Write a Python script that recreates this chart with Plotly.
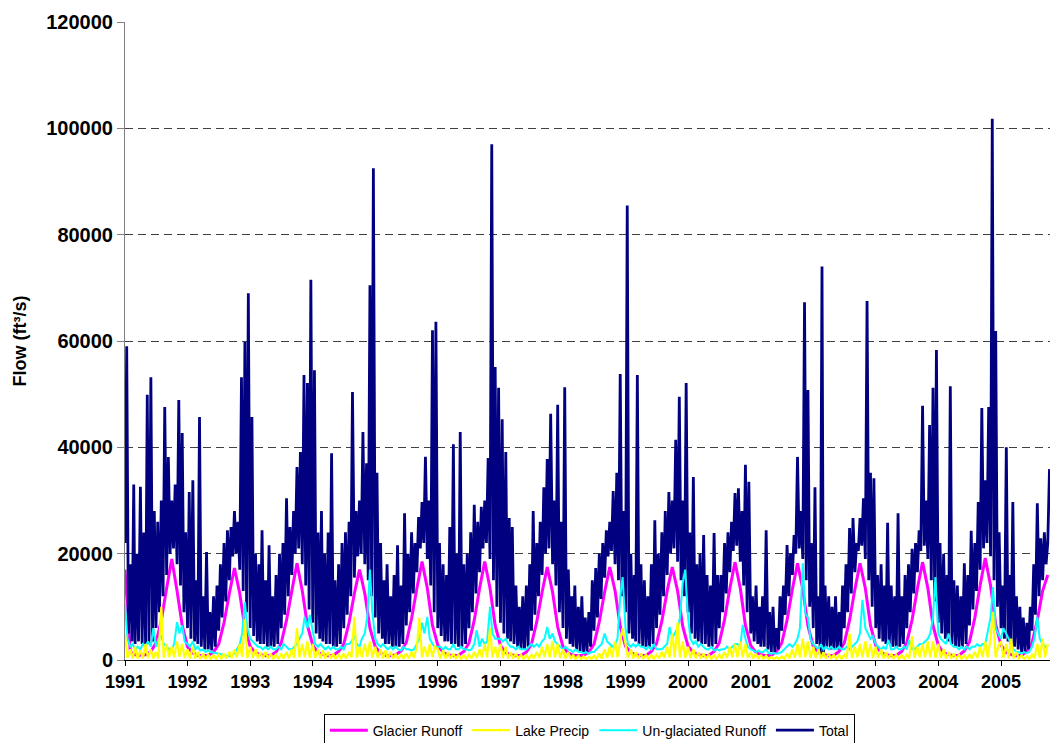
import pandas as pd
import plotly.graph_objects as go

# Total flow, three samples a month (1st / 11th / 21st), Jan 1991 .. Oct 2005
total_flow = [
    # 1991
    22000, 59000, 5000, 18000, 3500, 33000, 3000, 20000, 3500, 32600, 3000, 24000,
    3000, 49900, 3000, 53200, 3500, 28000, 6000, 26000, 9000, 30000, 12000, 47600,
    16000, 38200, 20000, 30000, 21000, 33000, 18000, 48900, 14000, 42700, 9000, 24000,
    # 1992
    6000, 31600, 4000, 33800, 3500, 15000, 3000, 45700, 2500, 12000, 2000, 20300,
    2000, 9000, 1800, 12000, 2500, 14000, 5500, 18000, 8000, 22000, 11000, 24400,
    15000, 25000, 19500, 28000, 20000, 26000, 17000, 53200, 13000, 59800, 9000, 69000,
    # 1993
    6000, 45700, 4500, 20000, 3500, 18000, 3000, 24400, 3000, 15000, 2500, 21600,
    2500, 12000, 2500, 16000, 3000, 20000, 6000, 22000, 8500, 30400, 12000, 25000,
    16000, 28000, 20000, 36300, 21000, 39100, 18000, 53600, 14000, 52100, 9500, 71500,
    # 1994
    7000, 54500, 5000, 24000, 4000, 28000, 3500, 20000, 3000, 24000, 3000, 38900,
    2500, 15000, 2500, 18000, 3000, 22000, 6000, 24000, 8500, 26000, 12000, 50400,
    15500, 28000, 19500, 30000, 20000, 42900, 18000, 37000, 15000, 70500, 12000, 92500,
    # 1995
    8000, 35200, 5000, 22000, 4000, 15000, 3000, 18000, 3000, 12000, 2500, 16000,
    2500, 21600, 2500, 14000, 3000, 27600, 6500, 20000, 9000, 24000, 12500, 22000,
    16500, 26900, 21000, 29700, 22000, 38200, 19000, 30000, 14000, 62000, 9000, 63600,
    # 1996
    6000, 22000, 4500, 18000, 3500, 16000, 3500, 25000, 3000, 40600, 3000, 20000,
    2500, 42900, 2500, 18000, 3000, 20000, 6000, 24000, 9000, 29200, 12500, 26000,
    16500, 28800, 21000, 30000, 22000, 38000, 19000, 97000, 15000, 55100, 10000, 51200,
    # 1997
    7000, 45300, 5000, 39100, 4000, 26700, 3500, 25000, 3000, 14000, 2500, 10000,
    2000, 12000, 2000, 14000, 2500, 18000, 5500, 28000, 8500, 22000, 12000, 26000,
    16000, 32500, 20000, 37800, 21000, 46300, 18000, 30000, 14000, 48000, 9000, 26000,
    # 1998
    6000, 51300, 4000, 17000, 3000, 12000, 2500, 14000, 2000, 10000, 1500, 12000,
    1500, 8000, 1500, 9000, 2500, 15000, 5500, 17300, 8000, 20000, 11500, 22000,
    15500, 24400, 19500, 26000, 20500, 31800, 18000, 35200, 15000, 53800, 12000, 28000,
    # 1999
    9000, 85500, 5000, 20000, 4000, 16000, 3500, 53600, 3000, 18000, 2500, 15000,
    2500, 12000, 2500, 18000, 3000, 26300, 6000, 20000, 8500, 24000, 12000, 28000,
    16000, 31600, 20000, 30000, 21000, 41400, 18500, 49500, 15000, 30000, 12000, 52100,
    # 2000
    9000, 24000, 5000, 34400, 4000, 18000, 3500, 20000, 3000, 23500, 3000, 16000,
    2500, 14000, 2500, 23900, 3000, 16000, 6000, 16000, 9000, 22000, 12500, 24000,
    16500, 26000, 20500, 31400, 21500, 32300, 18500, 28000, 14000, 36700, 9000, 33500,
    # 2001
    5000, 12000, 3500, 14000, 3000, 10000, 2500, 12000, 2500, 24400, 2000, 9000,
    1500, 10000, 1500, 6000, 2000, 12000, 5500, 14000, 8500, 21600, 12000, 20000,
    16000, 23500, 20000, 38200, 21000, 28000, 19000, 67300, 15000, 50800, 10000, 22000,
    # 2002
    6000, 32500, 3000, 12000, 1000, 74000, 1000, 14000, 2500, 12000, 2000, 10000,
    2000, 12000, 2000, 9000, 2500, 14000, 6000, 18000, 9000, 24800, 12500, 26700,
    16500, 22000, 20500, 26700, 21500, 30400, 19000, 67500, 15000, 35200, 10000, 34200,
    # 2003
    6000, 16000, 4000, 18000, 3500, 14000, 3000, 25800, 3000, 14000, 2500, 12000,
    2500, 27600, 2500, 12000, 3000, 16000, 6000, 18000, 9000, 20900, 12500, 22000,
    16500, 24400, 20500, 47800, 21500, 30000, 19000, 44200, 15000, 51200, 11000, 58300,
    # 2004
    7000, 22000, 5000, 20000, 4000, 16000, 3500, 51500, 3000, 15000, 2500, 14000,
    2500, 12000, 2500, 18200, 3000, 16000, 6500, 24300, 9500, 22000, 13000, 29700,
    17000, 47400, 21000, 33800, 22000, 47600, 19500, 101800, 15000, 61900, 10000, 24000,
    # 2005
    6000, 14000, 4000, 40000, 3500, 16000, 3000, 29700, 2500, 12000, 2000, 10000,
    1500, 8000, 1500, 7000, 2000, 10000, 5500, 18000, 8500, 29500, 12000, 22900,
    15000, 24000, 18000, 22000, 35900,
]

# semi-monthly (1st / 15th)
unglaciated = [
    10700, 4000, 2500, 3000, 2000, 2500, 2000, 3000, 2500, 3500, 2500, 6000,
    2500, 4000, 4500, 3000, 2500, 2000, 2000, 3000, 7100, 5000, 6500, 3500,
    3000, 2500, 3500, 2000, 2500, 1800, 2000, 1500, 1800, 1500, 1400, 1300,
    1200, 1100, 1000, 800, 700, 900, 1200, 2000, 3000, 5000, 10900, 6000,
    4000, 3500, 3000, 2500, 2500, 2000, 2500, 2000, 2500, 2000, 2000, 2500,
    2000, 3000, 2500, 2000, 2000, 2500, 3000, 4000, 5000, 8100, 6000, 8500,
    5000, 3000, 2500, 3000, 2500, 2000, 2500, 2000, 2500, 2000, 2000, 2500,
    2000, 3000, 3000, 3500, 4500, 3000, 2500, 4000, 5000, 8000, 17000, 9000,
    4000, 3000, 2500, 3000, 2500, 2000, 2500, 2000, 2500, 2000, 1800, 2500,
    2000, 2000, 1800, 2000, 3000, 4000, 7000, 5000, 8100, 4000, 3000, 2500,
    2500, 2500, 2000, 2500, 2000, 2000, 3000, 2000, 2000, 2500, 2000, 2000,
    1800, 2000, 3000, 5600, 2500, 4000, 3000, 3500, 10000, 5000, 4000, 4000,
    4000, 3500, 4000, 3000, 2500, 2500, 2000, 2500, 2000, 2000, 2000, 2500,
    3000, 2500, 3000, 2500, 3500, 4000, 6200, 4000, 5000, 3500, 3000, 2500,
    2000, 2500, 2000, 1800, 1500, 2000, 1500, 1500, 1300, 1500, 1200, 1500,
    1500, 2000, 2500, 3000, 5000, 3500, 3000, 2500, 3000, 4000, 11800, 15600,
    6000, 3000, 2500, 3000, 2500, 3000, 2500, 2500, 2000, 2500, 2000, 3000,
    2000, 2000, 2000, 2500, 3000, 6200, 4000, 5000, 6000, 8000, 14500, 17000,
    8000, 4000, 3000, 3500, 2500, 3000, 2500, 2000, 2000, 2500, 1800, 2000,
    1800, 2000, 2000, 2500, 2000, 2500, 3000, 3000, 2500, 6600, 4000, 2500,
    2000, 1800, 1500, 1800, 1500, 1500, 2000, 1300, 1200, 1300, 1200, 1300,
    1500, 2000, 2500, 3000, 2500, 3000, 4000, 6000, 18200, 8800, 8000, 4000,
    3000, 2500, 2000, 3000, 2000, 2500, 2000, 2500, 2000, 2000, 2500, 2000,
    2000, 2500, 2000, 2500, 3000, 3500, 5000, 11300, 6000, 5000, 4000, 4500,
    3000, 2500, 2000, 2500, 2000, 3800, 2000, 2000, 2500, 2000, 2000, 2500,
    2000, 3800, 2000, 2000, 2500, 3000, 3000, 3500, 4000, 5000, 8000, 15600,
    5000, 4000, 3500, 3000, 5000, 3000, 2500, 2500, 2000, 2500, 2000, 2500,
    2000, 2500, 2500, 3000, 2500, 3000, 3000, 5000, 8000, 13700, 6000, 5000,
    4000, 6000, 5000, 4000, 3000, 2000, 1500, 1500, 1200, 1500, 1300, 1500,
    2500, 4000, 8100, 4000, 3000, 2500, 2500,
]

lake_precip = [
    5000, 400, 2000, 300, 2500, 300, 1800, 300, 3000, 400, 2000, 300,
    1500, 300, 10000, 400, 3000, 500, 2500, 500, 3500, 600, 3000, 400,
    2000, 300, 2500, 300, 1500, 200, 1200, 200, 1000, 200, 900, 200,
    1000, 200, 1200, 300, 1500, 400, 2000, 500, 3000, 600, 7700, 400,
    2500, 400, 2000, 300, 1500, 300, 1500, 300, 1200, 200, 1000, 200,
    1200, 300, 1500, 300, 2000, 400, 6000, 500, 3000, 500, 3500, 400,
    3000, 400, 2000, 300, 1800, 300, 1500, 300, 1200, 200, 1000, 300,
    1200, 300, 1500, 500, 8100, 400, 2500, 500, 3000, 600, 3500, 500,
    2500, 400, 2000, 300, 1800, 300, 1500, 300, 1200, 200, 1000, 300,
    1200, 300, 1500, 400, 2500, 8000, 500, 2500, 600, 3000, 500, 2500,
    2000, 300, 1800, 300, 1500, 300, 1200, 300, 1000, 200, 900, 200,
    1000, 300, 1500, 400, 2000, 500, 3000, 500, 6000, 500, 2500, 400,
    3000, 400, 2500, 300, 1500, 300, 1200, 300, 1000, 200, 900, 200,
    1000, 300, 1500, 400, 2500, 500, 3000, 500, 3500, 500, 3000, 400,
    2000, 300, 1500, 200, 1000, 200, 800, 200, 700, 200, 600, 200,
    800, 200, 1200, 300, 2000, 400, 2500, 500, 3500, 500, 3500, 6000,
    3000, 400, 2000, 300, 1500, 300, 1200, 300, 1000, 200, 900, 200,
    1000, 300, 1500, 400, 2500, 500, 5000, 500, 7100, 500, 3500, 400,
    2500, 400, 2000, 300, 1500, 300, 1200, 300, 1000, 200, 900, 200,
    1000, 300, 1500, 400, 2500, 500, 3000, 500, 3500, 500, 3000, 400,
    1500, 300, 1200, 200, 1000, 200, 800, 200, 600, 200, 500, 200,
    700, 200, 1200, 300, 2000, 400, 3000, 500, 4000, 500, 3500, 400,
    2500, 400, 2000, 300, 1500, 300, 1200, 300, 1000, 200, 900, 200,
    1000, 300, 5000, 400, 2500, 500, 3000, 500, 3500, 500, 3000, 400,
    2500, 400, 2000, 300, 1500, 300, 1200, 300, 1000, 200, 900, 200,
    1000, 300, 4500, 400, 2500, 500, 3000, 500, 3500, 500, 3500, 400,
    3000, 400, 2000, 300, 1500, 300, 1200, 300, 1000, 200, 900, 200,
    1000, 300, 1500, 400, 2500, 500, 3500, 500, 4000, 9000, 500, 2500,
    3500, 400, 3000, 300, 4000, 300, 1500, 300, 900, 200, 700, 200,
    1000, 300, 3000, 400, 4000, 500, 3000,
]

# monthly (1st of month)
glacier_runoff = [
    17000, 1500, 1000, 900, 1000, 1600, 3200, 7500, 13500, 19000, 13000, 6500,
    2500, 1300, 900, 800, 900, 1500, 3000, 7000, 12500, 17300, 12500, 6000,
    2500, 1400, 1000, 800, 900, 1500, 3200, 7500, 13000, 18200, 13000, 6500,
    2800, 1400, 1000, 800, 900, 1600, 3000, 7000, 12500, 17000, 12500, 6000,
    2500, 1300, 900, 800, 1000, 1700, 3300, 7800, 13500, 18500, 13500, 6500,
    2800, 1400, 1000, 800, 900, 1600, 3200, 7500, 13500, 18500, 13500, 6500,
    2700, 1400, 1000, 800, 900, 1500, 3000, 7200, 12800, 17500, 12800, 6200,
    2500, 1300, 900, 800, 900, 1500, 3000, 7200, 12800, 17500, 13000, 6300,
    2600, 1400, 1000, 800, 900, 1600, 3100, 7300, 13000, 17500, 13000, 6300,
    2600, 1400, 1000, 800, 900, 1600, 3200, 7600, 13500, 18400, 13500, 6500,
    2700, 1400, 1000, 800, 900, 1600, 3200, 7500, 13300, 18200, 13300, 6400,
    2600, 1400, 1000, 800, 900, 1600, 3200, 7500, 13300, 18200, 13500, 6500,
    2700, 1400, 1000, 800, 900, 1600, 3300, 7600, 13500, 18400, 13500, 6500,
    2700, 1400, 1000, 800, 900, 1700, 3400, 7900, 14000, 19200, 14000, 6700,
    2800, 1400, 1000, 800, 900, 1600, 3200, 7500, 13000, 16000,
]

years = list(range(1991, 2006))
year_ticks = [str(y) for y in years]

total_dates = [pd.Timestamp(y, m, d) for y in years for m in range(1, 13)
               for d in (1, 11, 21)][:len(total_flow)]
semi_dates = pd.date_range("1991-01-01", periods=len(unglaciated), freq="SMS")
month_dates = pd.date_range("1991-01-01", periods=len(glacier_runoff), freq="MS")

FONT = "Arial, Liberation Sans, sans-serif"

fig = go.Figure()
fig.add_trace(go.Scatter(
    x=month_dates, y=glacier_runoff, name="Glacier Runoff", mode="lines",
    line=dict(color="#ff00ff", width=3), legendrank=1,
))
fig.add_trace(go.Scatter(
    x=total_dates, y=total_flow, name="Total", mode="lines",
    line=dict(color="#000080", width=2.8), legendrank=4,
))
fig.add_trace(go.Scatter(
    x=semi_dates, y=unglaciated, name="Un-glaciated Runoff", mode="lines",
    line=dict(color="#00ffff", width=2), legendrank=3,
))
fig.add_trace(go.Scatter(
    x=semi_dates[:len(lake_precip)], y=lake_precip, name="Lake Precip", mode="lines",
    line=dict(color="#ffff00", width=2.2), legendrank=2,
))

fig.update_layout(
    width=1050, height=743,
    paper_bgcolor="white", plot_bgcolor="white",
    margin=dict(l=125, r=0, t=22, b=83, autoexpand=False),
    font=dict(family=FONT, color="black"),
    showlegend=True,
    legend=dict(
        orientation="h", x=0.502, xanchor="center", y=-0.084, yanchor="top",
        font=dict(family=FONT, size=14, color="black"),
        bordercolor="black", borderwidth=1, bgcolor="white",
        itemwidth=38,
    ),
    hovermode=False,
)
fig.update_xaxes(
    type="date",
    range=["1991-01-01", "2005-10-14"],
    tickvals=pd.date_range("1991-01-01", periods=len(year_ticks), freq="YS"),
    ticktext=year_ticks,
    tickfont=dict(family=FONT, size=18, color="black", weight="bold"),
    ticks="outside", ticklen=5, tickcolor="black",
    showline=True, linecolor="black", linewidth=1,
    showgrid=False, zeroline=False,
)
fig.update_yaxes(
    range=[0, 120000], dtick=20000, tickformat="d",
    tickfont=dict(family=FONT, size=20, color="black", weight="bold"),
    title=dict(text="Flow (ft³/s)", font=dict(family=FONT, size=18, color="black", weight="bold"),
               standoff=14),
    ticks="outside", ticklen=7, tickcolor="#808080",
    showline=True, linecolor="#808080", linewidth=1,
    showgrid=True, gridcolor="#404040", gridwidth=1, griddash="8px,5px",
    zeroline=False,
)

fig.write_html("out.html", config={"displayModeBar": False},
               post_script="document.body.style.margin='0px';")
